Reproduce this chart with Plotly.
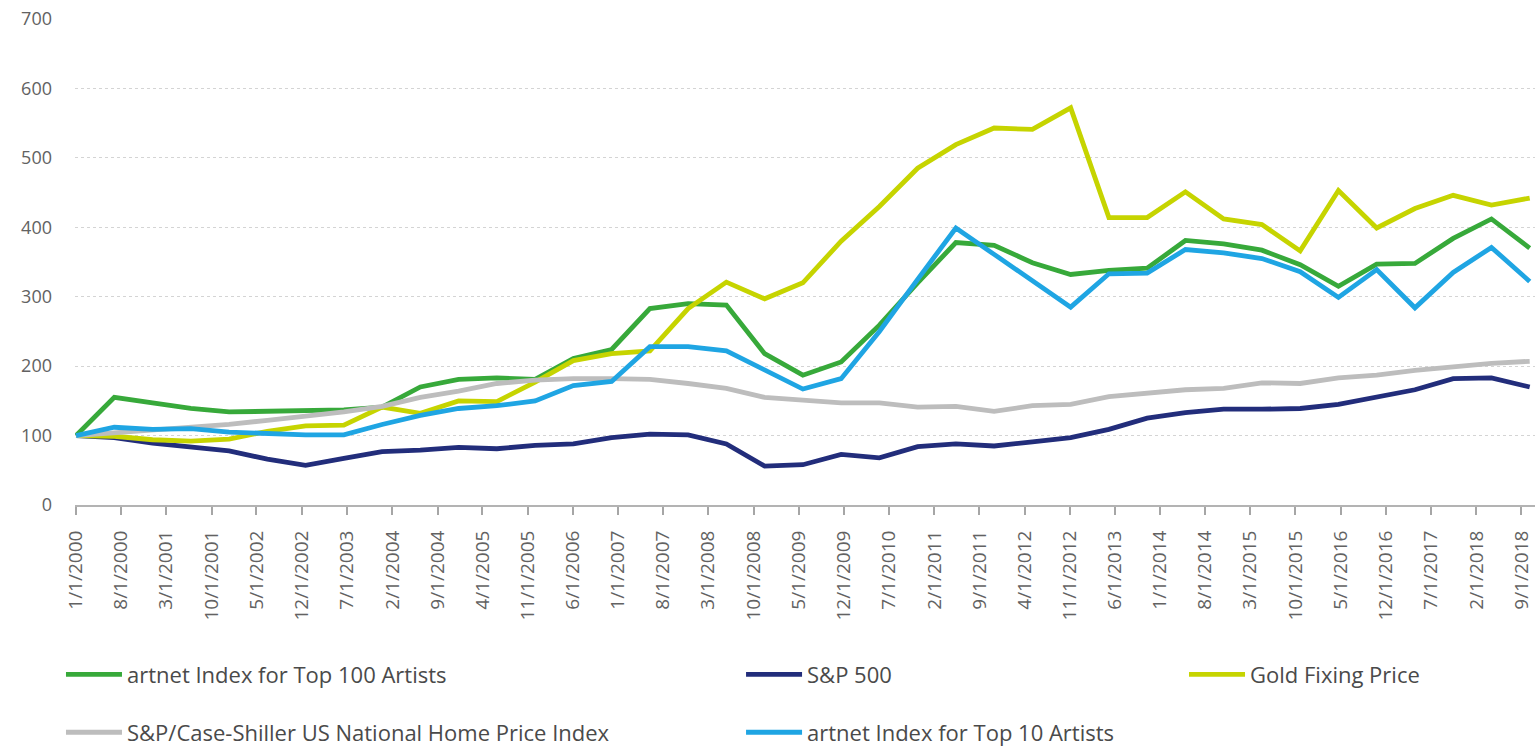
import pandas as pd
import plotly.graph_objects as go

# Observation dates: 39 roughly semi-annual readings, Jan 2000 to Oct 2018
obs_dates = pd.date_range("2000-01-01", "2018-10-10", periods=39)

# Index values (Jan 2000 = 100)
top100 = [100, 155, 147, 139, 134, 135, 136, 137, 141, 170, 181, 183, 181,
          211, 224, 283, 290, 288, 218, 187, 206, 259, 320, 378, 374, 349,
          332, 338, 341, 381, 376, 367, 346, 315, 347, 348, 384, 412, 370]
sp500 = [100, 97, 89, 84, 78, 66, 57, 67, 77, 79, 83, 81, 86,
         88, 97, 102, 101, 88, 56, 58, 73, 68, 84, 88, 85, 91,
         97, 109, 125, 133, 138, 138, 139, 145, 155, 166, 182, 183, 170]
gold = [100, 99, 94, 92, 95, 106, 114, 115, 141, 132, 150, 149, 177,
        208, 218, 222, 283, 321, 297, 320, 380, 430, 485, 519, 543, 541,
        572, 414, 414, 451, 412, 404, 366, 453, 399, 427, 446, 432, 442]
case_shiller = [100, 104, 108, 111, 116, 122, 128, 134, 142, 155, 164, 175, 180,
                182, 182, 181, 175, 168, 155, 151, 147, 147, 141, 142, 135, 143,
                145, 156, 161, 166, 168, 176, 175, 183, 187, 194, 199, 204, 207]
top10 = [100, 112, 109, 110, 105, 103, 101, 101, 116, 129, 139, 143, 150,
         172, 178, 228, 228, 222, 194, 167, 182, 250, 325, 399, 361, 323,
         285, 333, 334, 368, 363, 355, 336, 299, 339, 284, 335, 371, 322]

tick_labels = ["1/1/2000", "8/1/2000", "3/1/2001", "10/1/2001", "5/1/2002",
               "12/1/2002", "7/1/2003", "2/1/2004", "9/1/2004", "4/1/2005",
               "11/1/2005", "6/1/2006", "1/1/2007", "8/1/2007", "3/1/2008",
               "10/1/2008", "5/1/2009", "12/1/2009", "7/1/2010", "2/1/2011",
               "9/1/2011", "4/1/2012", "11/1/2012", "6/1/2013", "1/1/2014",
               "8/1/2014", "3/1/2015", "10/1/2015", "5/1/2016", "12/1/2016",
               "7/1/2017", "2/1/2018", "9/1/2018"]
tick_dates = pd.to_datetime(tick_labels, format="%m/%d/%Y")

y_ticks = [0, 100, 200, 300, 400, 500, 600, 700]

FONT = "Open Sans"
TEXT_GREY = "#626262"

series = [
    ("artnet Index for Top 100 Artists", top100, "#37a93a", "legend"),
    ("S&P 500", sp500, "#222d7b", "legend2"),
    ("Gold Fixing Price", gold, "#c6d400", "legend3"),
    ("S&P/Case-Shiller US National Home Price Index", case_shiller, "#bdbdbd", "legend4"),
    ("artnet Index for Top 10 Artists", top10, "#1fa5e3", "legend5"),
]

fig = go.Figure()
for name, values, color, leg in series:
    fig.add_trace(go.Scatter(
        x=obs_dates, y=values, name=name, mode="lines",
        line=dict(color=color, width=4.8),
        legend=leg, hoverinfo="x+y+name",
    ))

# one legend box per entry, laid out as a 3-column / 2-row key under the axis
def legend_box(x, y):
    return dict(
        x=x, y=y, xref="paper", yref="paper",
        xanchor="left", yanchor="middle",
        orientation="v", bgcolor="rgba(0,0,0,0)",
        font=dict(family=FONT, size=22, color="#4a4a4a"),
        itemwidth=56,
    )

row1, row2 = -0.349, -0.468
col1, col2, col3 = -0.0096, 0.4562, 0.7596

fig.update_layout(
    width=1537, height=755,
    margin=dict(l=75, r=2, t=19, b=236),
    paper_bgcolor="white", plot_bgcolor="white",
    font=dict(family=FONT, color=TEXT_GREY, size=18),
    showlegend=True,
    legend=legend_box(col1, row1),
    legend2=legend_box(col2, row1),
    legend3=legend_box(col3, row1),
    legend4=legend_box(col1, row2),
    legend5=legend_box(col2, row2),
    xaxis=dict(
        type="date",
        range=[pd.Timestamp("1999-12-27"), pd.Timestamp("2018-11-04")],
        tickmode="array", tickvals=tick_dates, ticktext=tick_labels,
        tickangle=-90, ticks="outside", ticklen=8, tickwidth=1.5,
        tickcolor="#a6a6a6",
        showline=True, linecolor="#b3b3b3", linewidth=2,
        showgrid=False, zeroline=False,
        ticklabelstandoff=8,
        tickfont=dict(family=FONT, size=19, color=TEXT_GREY),
    ),
    yaxis=dict(
        range=[0, 700],
        tickmode="array", tickvals=y_ticks,
        showgrid=True, gridcolor="#d4d4d4", gridwidth=1, griddash="dot",
        zeroline=False, showline=False, ticks="",
        ticklabelstandoff=22,
        tickfont=dict(family=FONT, size=18, color=TEXT_GREY),
    ),
)

fig.write_html("out.html")
